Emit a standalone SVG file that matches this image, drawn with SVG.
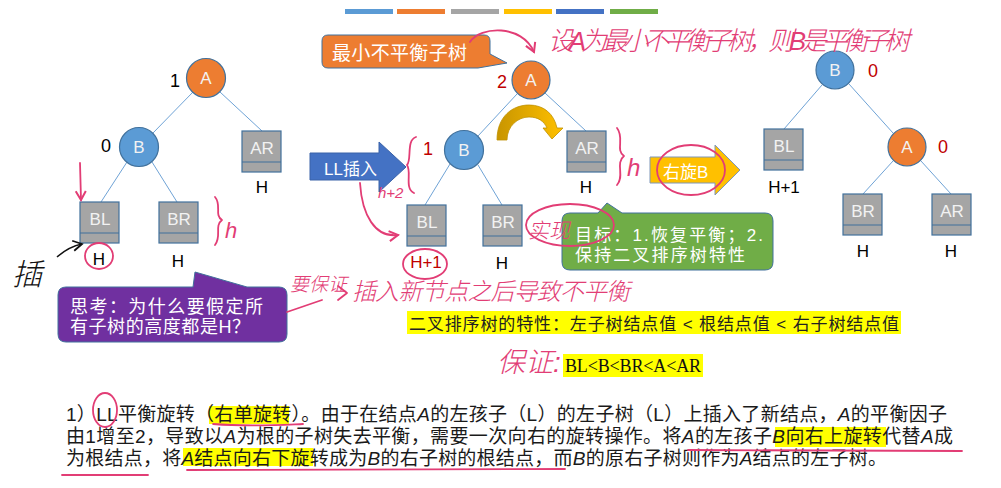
<svg xmlns="http://www.w3.org/2000/svg" xmlns:xlink="http://www.w3.org/1999/xlink" width="1001" height="488" viewBox="0 0 1001 488">
<style>
.lbl{font-family:"Liberation Sans","Noto Sans",sans-serif;font-size:17px;fill:#f2f2f2;text-anchor:middle}
.h{font-family:"Liberation Sans","Noto Sans",sans-serif;font-size:17px;fill:#000;text-anchor:middle}
.bf{font-family:"Liberation Sans","Noto Sans",sans-serif;font-size:18px;text-anchor:middle}
.red{fill:#c00000}
.cj{font-family:"Liberation Sans","Noto Sans CJK SC",sans-serif}
.edge{stroke:#6fa3d6;stroke-width:1;fill:none}
.pk{fill:none;stroke:#e23d75;stroke-width:1.8;stroke-linecap:round;stroke-linejoin:round}
.pkt{font-family:"Liberation Sans","Noto Sans CJK SC",sans-serif;fill:#e23d75;font-style:italic;font-weight:300}
.para{font-family:"Liberation Sans","Noto Sans CJK SC",sans-serif;font-size:19px;fill:#1a1a1a}
.it{font-style:italic}
</style>
<defs>
<g id="box"><rect x="0" y="0" width="39" height="41" fill="#a5a5a5" stroke="#41719c" stroke-width="1.2"/><line x1="0" y1="31" x2="39" y2="31" stroke="#41719c" stroke-width="1.2"/></g>
<linearGradient id="yg" x1="0" y1="0" x2="1" y2="0"><stop offset="0" stop-color="#c89500"/><stop offset="1" stop-color="#ffc000"/></linearGradient>
<marker id="pa" viewBox="0 0 10 10" refX="8" refY="5" markerWidth="7" markerHeight="7" orient="auto"><path d="M1,1 L8,5 L1,9" fill="none" stroke="#e23d75" stroke-width="1.6"/></marker>
<marker id="ka" viewBox="0 0 10 10" refX="8" refY="5" markerWidth="8" markerHeight="8" orient="auto"><path d="M1,1 L8,5 L1,9" fill="none" stroke="#111" stroke-width="1.4"/></marker>
</defs>
<rect width="1001" height="488" fill="#fff"/>

<g id="topbar">
<rect x="345" y="9" width="48" height="5" fill="#5b9bd5"/>
<rect x="397" y="9" width="48" height="5" fill="#ed7d31"/>
<rect x="451" y="9" width="48" height="5" fill="#a5a5a5"/>
<rect x="504" y="9" width="48" height="5" fill="#ffc000"/>
<rect x="556" y="9" width="48" height="5" fill="#4472c4"/>
<rect x="610" y="9" width="48" height="5" fill="#70ad47"/>
</g>

<g id="connectors">
<line class="edge" x1="193" y1="92" x2="153" y2="133"/>
<line class="edge" x1="220" y1="92" x2="262" y2="131"/>
<line class="edge" x1="127" y1="162" x2="101" y2="202"/>
<line class="edge" x1="152" y1="162" x2="177" y2="202"/>
<line class="edge" x1="517" y1="94" x2="478" y2="136"/>
<line class="edge" x1="545" y1="93" x2="586" y2="131"/>
<line class="edge" x1="450" y1="164" x2="425" y2="205"/>
<line class="edge" x1="478" y1="165" x2="502" y2="205"/>
<line class="edge" x1="822" y1="85" x2="784" y2="129"/>
<line class="edge" x1="849" y1="84" x2="893" y2="133"/>
<line class="edge" x1="893" y1="161" x2="863" y2="194"/>
<line class="edge" x1="921" y1="161" x2="951" y2="194"/>
</g>

<!-- left tree -->
<g id="A1"><circle cx="206" cy="78" r="19.5" fill="#ed7d31" stroke="#41719c" stroke-width="1.2"/><text class="lbl" x="206" y="84">A</text><text class="bf" x="175" y="87">1</text></g>
<g id="B1"><circle cx="139" cy="147" r="19.5" fill="#5b9bd5" stroke="#41719c" stroke-width="1.2"/><text class="lbl" x="139" y="153">B</text><text class="bf" x="106" y="152">0</text></g>
<g id="AR1"><use href="#box" x="242" y="131"/><text class="lbl" x="262" y="154">AR</text><text class="h" x="262" y="193">H</text></g>
<g id="BL1"><use href="#box" x="80" y="202"/><text class="lbl" x="100" y="225">BL</text><text class="h" x="99" y="265">H</text></g>
<g id="BR1"><use href="#box" x="159" y="202"/><text class="lbl" x="179" y="225">BR</text><text class="h" x="178" y="267">H</text></g>

<!-- middle tree -->
<g id="A2"><circle cx="531" cy="80" r="19" fill="#ed7d31" stroke="#41719c" stroke-width="1.2"/><text class="lbl" x="531" y="86">A</text><text class="bf red" x="502" y="88">2</text></g>
<g id="B2"><circle cx="464" cy="150" r="19.5" fill="#5b9bd5" stroke="#41719c" stroke-width="1.2"/><text class="lbl" x="464" y="156">B</text><text class="bf red" x="428" y="155">1</text></g>
<g id="AR2"><use href="#box" x="567" y="131"/><text class="lbl" x="587" y="154">AR</text><text class="h" x="586" y="193">H</text></g>
<g id="BL2"><use href="#box" x="407" y="205"/><text class="lbl" x="427" y="228">BL</text><text class="h red" x="426" y="268">H+1</text></g>
<g id="BR2"><use href="#box" x="483" y="205"/><text class="lbl" x="503" y="228">BR</text><text class="h" x="502" y="269">H</text></g>

<!-- right tree -->
<g id="B3"><circle cx="835" cy="70" r="19" fill="#5b9bd5" stroke="#41719c" stroke-width="1.2"/><text class="lbl" x="835" y="76">B</text><text class="bf red" x="873" y="77">0</text></g>
<g id="A3"><circle cx="907" cy="147" r="19" fill="#ed7d31" stroke="#41719c" stroke-width="1.2"/><text class="lbl" x="907" y="153">A</text><text class="bf red" x="943" y="153">0</text></g>
<g id="BL3"><use href="#box" x="764" y="129"/><text class="lbl" x="784" y="152">BL</text><text class="h" x="784" y="193">H+1</text></g>
<g id="BR3"><use href="#box" x="843" y="194"/><text class="lbl" x="863" y="217">BR</text><text class="h" x="863" y="257">H</text></g>
<g id="AR3"><use href="#box" x="932" y="194"/><text class="lbl" x="952" y="217">AR</text><text class="h" x="951" y="257">H</text></g>

<!-- callouts and arrows -->
<g id="callout-min">
<path d="M328,35 H484 Q490,35 490,41 V54 L507,63 L478,68 H328 Q322,68 322,62 V41 Q322,35 328,35 Z" fill="#ed7d31" stroke="#41719c" stroke-width="1"/>
<text class="cj" x="332" y="60" font-size="19" fill="#fff" textLength="135">最小不平衡子树</text>
</g>
<g id="arrow-LL">
<path d="M310,153 H379 V142 L406,167 L379,192 V180 H310 Z" fill="#4472c4" stroke="#3a62a8" stroke-width="1"/>
<text class="cj" x="324" y="175" font-size="17" fill="#fff">LL插入</text>
</g>
<g id="rot-arrow">
<path d="M497,140 C497,116 513,105 529,105 C544,105 554,114 557,128 L563,128 L552,139 L543,128 L547,128 C544,121 538,117 529,117 C518,117 507,126 507,140 Z" fill="url(#yg)" stroke="#bf9000" stroke-width="0.8"/>
</g>
<g id="arrow-rot">
<path d="M650,157 H715 V145 L740,170 L715,195 V183 H650 Z" fill="#ffc000" stroke="#7f97b8" stroke-width="1"/>
<text class="cj" x="663" y="178" font-size="17" fill="#fff">右旋B</text>
</g>
<g id="callout-goal">
<path d="M570,213 H598 L607,203 L622,213 H765 Q773,213 773,221 V262 Q773,270 765,270 H570 Q562,270 562,262 V221 Q562,213 570,213 Z" fill="#70ad47" stroke="#41719c" stroke-width="1"/>
<text class="cj" x="575" y="241" font-size="17" fill="#fff" textLength="188">目标：1.恢复平衡；2.</text>
<text class="cj" x="575" y="261" font-size="17" fill="#fff" textLength="170">保持二叉排序树特性</text>
</g>
<g id="callout-think">
<path d="M66,287 H193 L195,272 L247,287 H279 Q287,287 287,295 V334 Q287,342 279,342 H66 Q58,342 58,334 V295 Q58,287 66,287 Z" fill="#7030a0" stroke="#41719c" stroke-width="1"/>
<text class="cj" x="70" y="313" font-size="18" fill="#fff" textLength="193">思考：为什么要假定所</text>
<text class="cj" x="70" y="333" font-size="18" fill="#fff" textLength="180">有子树的高度都是H？</text>
</g>

<g id="bst-property">
<rect x="407" y="311" width="494" height="23" fill="#ffff00"/>
<text class="cj" x="409" y="330" font-size="17" fill="#222" textLength="490">二叉排序树的特性：左子树结点值 &lt; 根结点值 &lt; 右子树结点值</text>
<rect x="563" y="354" width="140" height="23" fill="#ffff00"/>
<text x="565" y="372" font-family="Liberation Serif,serif" font-size="18" fill="#111" textLength="136">BL&lt;B&lt;BR&lt;A&lt;AR</text>
</g>

<g id="paragraph">
<rect x="209" y="406" width="80" height="18" fill="#ffff00"/>
<rect x="775" y="427" width="111" height="20" fill="#ffff00"/>
<rect x="183" y="448" width="130" height="18" fill="#ffff00"/>
<text class="para" x="66" y="421" textLength="881">1）LL平衡旋转（右单旋转）。由于在结点<tspan class="it">A</tspan>的左孩子（L）的左子树（L）上插入了新结点，<tspan class="it">A</tspan>的平衡因子</text>
<text class="para" x="66" y="443" textLength="887">由1增至2，导致以<tspan class="it">A</tspan>为根的子树失去平衡，需要一次向右的旋转操作。将<tspan class="it">A</tspan>的左孩子<tspan class="it">B</tspan>向右上旋转代替<tspan class="it">A</tspan>成</text>
<text class="para" x="66" y="465" textLength="821">为根结点，将<tspan class="it">A</tspan>结点向右下旋转成为<tspan class="it">B</tspan>的右子树的根结点，而<tspan class="it">B</tspan>的原右子树则作为<tspan class="it">A</tspan>结点的左子树。</text>
</g>

<g id="annotations">
<text class="pkt" x="548" y="50" font-size="26" textLength="362">设A为最小不平衡子树，则B是平衡子树</text>
<path class="pk" d="M470,42 C480,26 522,24 534,52" marker-end="url(#pa)"/>
<path class="pk" d="M80,163 L81,200" marker-end="url(#pa)"/>
<text x="12" y="285" font-family="Liberation Sans,Noto Sans CJK SC,sans-serif" font-size="30" font-style="italic" font-weight="300" fill="#111">插</text>
<path d="M57,257 C65,250 72,246 82,244" fill="none" stroke="#111" stroke-width="1.6" marker-end="url(#ka)"/>
<ellipse class="pk" cx="99" cy="256" rx="14" ry="13"/>
<path class="pk" d="M215,197 C222,205 214,215 222,220 C214,226 222,236 215,245"/>
<text class="pkt" x="225" y="238" font-size="22">h</text>
<path class="pk" d="M416,137 C406,140 412,160 407,165 C412,172 404,188 414,193"/>
<text class="pkt" x="378" y="198" font-size="15">h+2</text>
<path class="pk" d="M360,183 C362,215 375,238 398,235" marker-end="url(#pa)"/>
<ellipse class="pk" cx="425" cy="264" rx="22" ry="15"/>
<path class="pk" d="M617,128 C625,138 615,150 624,156 C615,163 625,176 617,185"/>
<text class="pkt" x="627" y="176" font-size="24">h</text>
<ellipse class="pk" cx="691" cy="170" rx="34" ry="25"/>
<text class="pkt" x="528" y="238" font-size="21">实现</text>
<ellipse class="pk" cx="570" cy="225" rx="44" ry="21"/>
<path class="pk" d="M287,312 L322,300"/>
<text class="pkt" x="290" y="291" font-size="19">要保证</text>
<path class="pk" d="M338,286 L347,293 L338,300"/>
<text class="pkt" x="352" y="300" font-size="24" textLength="278">插入新节点之后导致不平衡</text>
<text class="pkt" x="497" y="372" font-size="28">保证:</text>
<ellipse class="pk" cx="105" cy="410" rx="12" ry="17"/>
<path class="pk" d="M213,424 C250,427 280,425 303,424"/>
<path class="pk" d="M688,450 L962,451"/>
<path class="pk" d="M62,475 L148,475"/>
<path class="pk" d="M187,470 L565,469"/>
</g>
</svg>
